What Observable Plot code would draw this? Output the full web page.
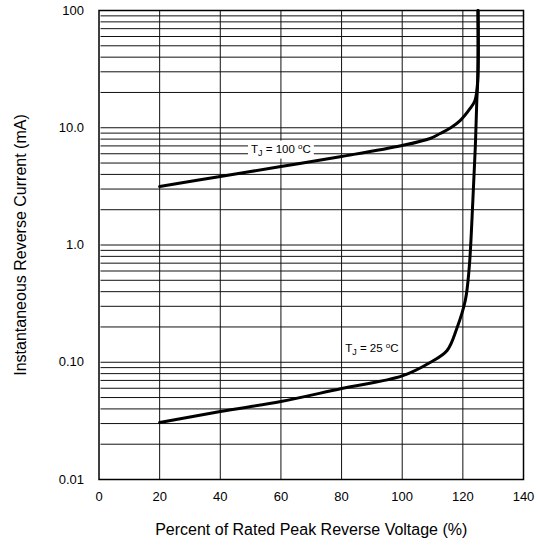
<!DOCTYPE html>
<html><head><meta charset="utf-8">
<script src="https://cdn.jsdelivr.net/npm/d3@7"></script>
<script src="https://cdn.jsdelivr.net/npm/@observablehq/plot@0.6"></script>
<style>body{margin:0;background:#fff}</style>
</head><body><div id="chart"></div>
<script>
const FONT = '"Liberation Sans Narrow","Liberation Sans",Arial,sans-serif';

const xTicks = [0, 20, 40, 60, 80, 100, 120, 140];
const xGrid = [20, 40, 60, 80, 100, 120];
const yTicks = [0.01, 0.1, 1, 10, 100];
const yTickLabels = ["0.01", "0.10", "1.0", "10.0", "100"];

const pct100 = [20, 40, 60, 80, 100, 109.2, 112.5, 116, 119.1, 122.4, 124.0, 124.9, 125.0];
const cur100 = [3.15, 3.84, 4.67, 5.69, 7.06, 8.10, 8.93, 10.0, 11.5, 14.6, 17.1, 25.3, 100];

const pct25 = [20, 40, 60, 80, 100, 109.2, 114.8, 118.0, 120.8, 122.1, 123.3, 124.1, 124.6, 124.9, 125.0];
const cur25 = [0.0306, 0.0380, 0.0463, 0.0597, 0.0765, 0.0995, 0.126, 0.194, 0.336, 0.643, 2.40, 6.79, 17.1, 25.3, 100];

const labelPct = [60, 90];
const labelCur = [6.6, 0.131];
const labelTemp = ["100", "25"];

const rows = [
  ...pct100.map((p, i) => ({series: "100", pct: p, cur: cur100[i]})),
  ...pct25.map((p, i) => ({series: "25", pct: p, cur: cur25[i]}))
];
const labelRows = labelPct.map((p, i) => ({pct: p, cur: labelCur[i], temp: labelTemp[i]}));
const gridVals = d3.scaleLog().domain([0.01, 100]).ticks();

const chart = Plot.plot({
  width: 538,
  height: 547,
  marginTop: 10,
  marginBottom: 68,
  marginLeft: 98.5,
  marginRight: 15,
  style: {fontFamily: FONT, fontSize: "13px", color: "#000", background: "#fff"},
  x: {domain: [0, 140], ticks: xTicks, tickSize: 0, tickPadding: 12, label: null},
  y: {type: "log", domain: [0.01, 100], ticks: yTicks, tickFormat: d => yTickLabels[yTicks.indexOf(d)], tickSize: 0, tickPadding: 15, label: null},
  marks: [
    Plot.ruleY(gridVals, {stroke: "#111", strokeWidth: 1, insetLeft: 2}),
    Plot.ruleX(xGrid, {stroke: "#111", strokeWidth: 1}),
    Plot.frame({stroke: "#000", strokeWidth: 1.5}),
    Plot.line(rows, {x: "pct", y: "cur", z: "series", stroke: "#000", strokeWidth: 3, curve: "catmull-rom"}),
    Plot.text(labelRows, {x: "pct", y: "cur", text: d => "TJ = " + d.temp + " °C", fontSize: 11.5, fill: "#000"}),
    Plot.text(["Percent of Rated Peak Reverse Voltage (%)"], {frameAnchor: "bottom", textAnchor: "middle", dy: 55, fontSize: 16, fill: "#000"}),
    Plot.text(["Instantaneous Reverse Current (mA)"], {frameAnchor: "left", textAnchor: "middle", rotate: -90, dx: -78, fontSize: 16, fill: "#000"})
  ]
});
document.getElementById("chart").appendChild(chart);

// Subscript J and superscript degree, white box behind the 100 °C label
const ns = "http://www.w3.org/2000/svg";
d3.select(chart).selectAll("text").filter(function() { return this.textContent.startsWith("TJ = "); }).each(function() {
  const t = this;
  const temp = t.textContent.includes("100") ? "100" : "25";
  while (t.firstChild) t.removeChild(t.firstChild);
  const parts = [
    {s: "T", dy: 0},
    {s: "J", dy: 3, fs: 9},
    {s: " = " + temp + " ", dy: -3},
    {s: "o", dy: -4, fs: 8},
    {s: "C", dy: 4}
  ];
  parts.forEach(p => {
    const ts = document.createElementNS(ns, "tspan");
    ts.textContent = p.s;
    if (p.dy) ts.setAttribute("dy", p.dy);
    if (p.fs) ts.setAttribute("font-size", p.fs);
    t.appendChild(ts);
  });
  if (temp === "100") {
    const bb = t.getBBox();
    const r = document.createElementNS(ns, "rect");
    r.setAttribute("x", bb.x - 3);
    r.setAttribute("y", bb.y - 1);
    r.setAttribute("width", bb.width + 6);
    r.setAttribute("height", bb.height + 2);
    r.setAttribute("fill", "#fff");
    if (t.getAttribute("transform")) r.setAttribute("transform", t.getAttribute("transform"));
    t.parentNode.insertBefore(r, t);
  }
});
</script>
</body></html>
